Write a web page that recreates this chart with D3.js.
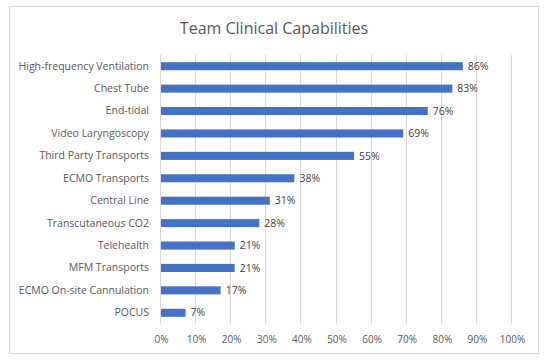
<!DOCTYPE html>
<meta charset="utf-8">
<style>
body { margin: 0; background: #fff; }
.axis text { font: 10px "Open Sans", sans-serif; fill: #595959; }
.axis.y text { font-size: 10.5px; }
.label { font: 10.5px "Open Sans", sans-serif; fill: #404040; }
.title { font: 16px "Open Sans", sans-serif; fill: #595959; }
.grid line { stroke: #d9d9d9; stroke-width: 1px; shape-rendering: crispEdges; }
</style>
<body>
<svg width="548" height="362"></svg>
<script src="https://d3js.org/d3.v7.min.js"></script>
<script>
var categories = ["High-frequency Ventilation", "Chest Tube", "End-tidal", "Video Laryngoscopy",
  "Third Party Transports", "ECMO Transports", "Central Line", "Transcutaneous CO2",
  "Telehealth", "MFM Transports", "ECMO On-site Cannulation", "POCUS"];
var values = [0.86, 0.83, 0.76, 0.69, 0.55, 0.38, 0.31, 0.28, 0.21, 0.21, 0.17, 0.07];
var xTicks = [0, 0.1, 0.2, 0.3, 0.4, 0.5, 0.6, 0.7, 0.8, 0.9, 1.0];

var svg = d3.select("svg"),
    margin = {top: 55, right: 36, bottom: 38, left: 161},
    width = +svg.attr("width") - margin.left - margin.right,
    height = +svg.attr("height") - margin.top - margin.bottom;

// chart frame
svg.append("rect")
    .attr("x", 9.5).attr("y", 6.5)
    .attr("width", 529).attr("height", 347)
    .attr("fill", "#fff")
    .attr("stroke", "#d9d9d9");

svg.append("text")
    .attr("class", "title")
    .attr("x", 274).attr("y", 34)
    .attr("text-anchor", "middle")
    .text("Team Clinical Capabilities");

var x = d3.scaleLinear().domain([0, 1]).range([0, width]);
var y = d3.scaleBand().domain(categories).range([0, height]).paddingInner(0.64).paddingOuter(0.32);

var g = svg.append("g")
    .attr("transform", "translate(" + margin.left + "," + margin.top + ")");

g.append("g")
    .attr("class", "grid")
    .selectAll("line")
    .data(xTicks)
  .enter().append("line")
    .attr("x1", function(d) { return Math.round(x(d)) - 0.5; })
    .attr("x2", function(d) { return Math.round(x(d)) - 0.5; })
    .attr("y1", 0)
    .attr("y2", height);

g.append("g")
    .attr("class", "axis x")
    .attr("transform", "translate(0," + height + ")")
    .call(d3.axisBottom(x).tickValues(xTicks).tickFormat(d3.format(".0%")).tickSize(0).tickPadding(12))
    .call(function(a) { a.select(".domain").remove(); });

g.append("g")
    .attr("class", "axis y")
    .call(d3.axisLeft(y).tickSize(0).tickPadding(12))
    .call(function(a) { a.select(".domain").remove(); });

g.selectAll(".bar")
    .data(values)
  .enter().append("rect")
    .attr("class", "bar")
    .attr("x", 0)
    .attr("y", function(d, i) { return y(categories[i]); })
    .attr("width", function(d) { return x(d); })
    .attr("height", y.bandwidth())
    .attr("fill", "#4472c4");

g.selectAll(".label")
    .data(values)
  .enter().append("text")
    .attr("class", "label")
    .attr("x", function(d) { return x(d) + 5; })
    .attr("y", function(d, i) { return y(categories[i]) + y.bandwidth() / 2; })
    .attr("dy", "0.35em")
    .text(function(d) { return d3.format(".0%")(d); });
</script>
